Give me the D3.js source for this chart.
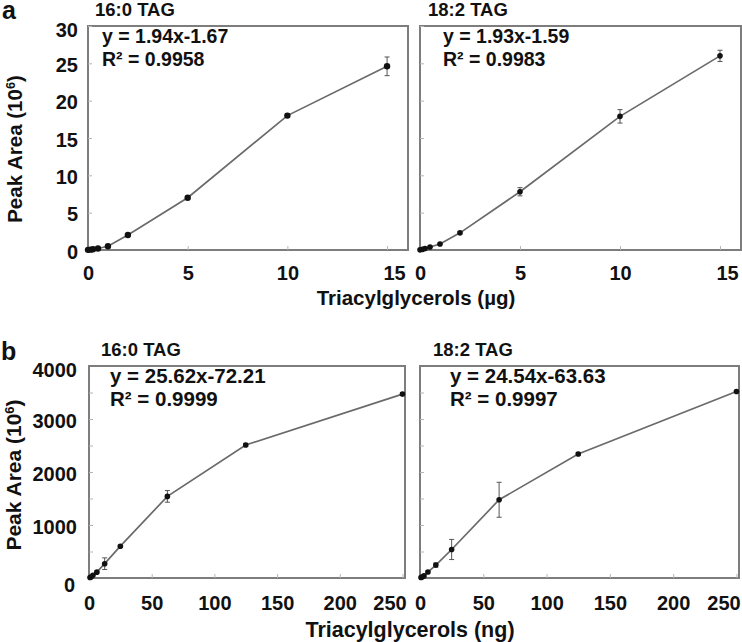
<!DOCTYPE html>
<html lang="en">
<head>
<meta charset="UTF-8">
<title>TAG calibration curves</title>
<script src="https://d3js.org/d3.v7.min.js"></script>
<style>
  body { margin: 0; background: #fff; }
  svg text { font-family: "Liberation Sans", Arial, sans-serif; font-weight: bold; fill: #111; }
</style>
</head>
<body>
<script>
// panel a: amounts in ug, peak area in 10^6
const aDose = [0, 0.125, 0.25, 0.5, 1, 2, 5, 10, 15];
const a160 = [0.02, 0.05, 0.1, 0.2, 0.5, 2.0, 7.0, 18.0, 24.6];
const a160Err = [0, 0, 0, 0, 0.1, 0.15, 0.2, 0.25, 1.25];
const a182 = [0.02, 0.08, 0.2, 0.4, 0.8, 2.3, 7.8, 17.9, 26.0];
const a182Err = [0, 0, 0.05, 0.05, 0.1, 0.15, 0.55, 0.9, 0.75];

// panel b: amounts in ng
const bDose = [0.78, 1.56, 3.125, 6.25, 12.5, 25, 62.5, 125, 250];
const b160 = [10, 20, 50, 110, 270, 600, 1540, 2510, 3470];
const b160Err = [0, 0, 0, 20, 110, 20, 110, 30, 30];
const b182 = [10, 20, 40, 112, 244, 538, 1476, 2340, 3520];
const b182Err = [0, 0, 0, 20, 40, 190, 330, 30, 20];

const aXTicks = [0, 5, 10, 15];
const aYTicks = [0, 5, 10, 15, 20, 25, 30];
const bXTicks = [0, 50, 100, 150, 200, 250];
const bYTicks = [0, 1000, 2000, 3000, 4000];
const bYMinor = [500, 1000, 1500, 2000, 2500, 3000, 3500];

const titles = ["16:0 TAG", "18:2 TAG"];
const eqA = [["y = 1.94x-1.67", "0.9958"], ["y = 1.93x-1.59", "0.9983"]];
const eqB = [["y = 25.62x-72.21", "0.9999"], ["y = 24.54x-63.63", "0.9997"]];

const W = 742, H = 642;
const svg = d3.select("body").append("svg").attr("width", W).attr("height", H);

const panels = [
  { box: [88, 26, 408, 250], xMax: 16.05, yMax: 30, xs: aDose, ys: a160, err: a160Err,
    xt: aXTicks, yt: aYTicks, ym: aYTicks, title: titles[0], eq: eqA[0], showY: true, r: 3.2, eqSize: 19.5 },
  { box: [420, 26, 741, 250], xMax: 16.05, yMax: 30, xs: aDose, ys: a182, err: a182Err,
    xt: aXTicks, yt: aYTicks, ym: aYTicks, title: titles[1], eq: eqA[1], showY: false, r: 2.8, eqSize: 19.5 },
  { box: [89, 366, 405, 578], xMax: 252, yMax: 4000, xs: bDose, ys: b160, err: b160Err,
    xt: bXTicks, yt: bYTicks, ym: bYMinor, title: titles[0], eq: eqB[0], showY: true, r: 2.8, eqSize: 20.5 },
  { box: [420, 366, 739, 578], xMax: 252, yMax: 4000, xs: bDose, ys: b182, err: b182Err,
    xt: bXTicks, yt: bYTicks, ym: bYMinor, title: titles[1], eq: eqB[1], showY: false, r: 2.8, eqSize: 20.5 }
];

panels.forEach((p, i) => {
  const [x0, y0, x1, y1] = p.box;
  const x = d3.scaleLinear().domain([0, p.xMax]).range([x0, x1]);
  const y = d3.scaleLinear().domain([0, p.yMax]).range([y1, y0]);
  const g = svg.append("g");

  // plot area border
  g.append("rect")
    .attr("x", x0).attr("y", y0)
    .attr("width", x1 - x0).attr("height", y1 - y0)
    .attr("fill", "none").attr("stroke", "#7d7d7d").attr("stroke-width", 2);

  // small inner ticks
  const yIn = g.append("g").attr("transform", `translate(${x0},0)`)
    .call(d3.axisRight(y).tickValues(p.ym).tickSize(4).tickFormat(""));
  const xIn = g.append("g").attr("transform", `translate(0,${y1})`)
    .call(d3.axisTop(x).tickValues(p.xt.slice(1)).tickSize(4).tickFormat(""));
  [yIn, xIn].forEach(a => {
    a.select(".domain").remove();
    a.selectAll("line").attr("stroke", "#b5b5b5").attr("stroke-width", 1);
  });

  // x tick labels
  const last = p.xt[p.xt.length - 1];
  const xa = g.append("g").attr("transform", `translate(0,${y1})`)
    .call(d3.axisBottom(x).tickValues(p.xt).tickSize(0).tickPadding(i < 2 ? 16 : 18)
      .tickFormat(d3.format("d")));
  xa.select(".domain").remove();
  xa.selectAll("text")
    .style("font-size", "20px")
    .attr("fill", "#111")
    .attr("dx", d => d === last ? (i < 2 ? 7 : -13) : 0);

  // y tick labels (left panels only)
  if (p.showY) {
    const ya = g.append("g").attr("transform", `translate(${x0},0)`)
      .call(d3.axisLeft(y).tickValues(p.yt).tickSize(0).tickPadding(i < 2 ? 10 : 12)
        .tickFormat(d3.format("d")));
    ya.select(".domain").remove();
    ya.selectAll("text")
      .style("font-size", "20px")
      .attr("fill", "#111")
      .attr("dy", d => d === 0 && i >= 2 ? "0.65em" : (d === p.yMax ? "0.5em" : "0.4em"))
      .attr("dx", d => d === 0 && i >= 2 ? -2 : 0);
  }

  // connecting line
  const pts = p.xs.map((v, k) => [v, p.ys[k], p.err[k]]);
  g.append("path")
    .datum(pts)
    .attr("fill", "none").attr("stroke", "#6a6a6a").attr("stroke-width", 1.7)
    .attr("d", d3.line().x(d => x(d[0])).y(d => y(d[1])));

  // error bars
  const eb = g.selectAll(".eb").data(pts.filter(d => d[2] > 0)).join("g");
  eb.append("line")
    .attr("x1", d => x(d[0])).attr("x2", d => x(d[0]))
    .attr("y1", d => y(d[1] - d[2])).attr("y2", d => y(d[1] + d[2]))
    .attr("stroke", "#555").attr("stroke-width", 1);
  [-1, 1].forEach(s => {
    eb.append("line")
      .attr("x1", d => x(d[0]) - 2.5).attr("x2", d => x(d[0]) + 2.5)
      .attr("y1", d => y(d[1] + s * d[2])).attr("y2", d => y(d[1] + s * d[2]))
      .attr("stroke", "#555").attr("stroke-width", 1);
  });

  // points
  g.selectAll("circle").data(pts).join("circle")
    .attr("cx", d => x(d[0])).attr("cy", d => y(d[1]))
    .attr("r", p.r).attr("fill", "#111");

  // panel title
  g.append("text")
    .attr("x", x0 + (i % 2 ? 8 : 7) + (i >= 2 ? 5 : 0))
    .attr("y", y0 - 10)
    .style("font-size", "18.5px")
    .text(p.title);

  // fit equation
  const ex = x0 + (i % 2 ? 23 : 14) + (i >= 2 ? 7 : 0);
  g.append("text").attr("x", ex).attr("y", y0 + 17)
    .style("font-size", p.eqSize + "px").text(p.eq[0]);
  g.append("text").attr("x", ex).attr("y", y0 + 40)
    .style("font-size", p.eqSize + "px").text("R² = " + p.eq[1]);
});

// panel letters
svg.append("text").attr("x", 2).attr("y", 19).style("font-size", "25px").text("a");
svg.append("text").attr("x", 1).attr("y", 360).style("font-size", "25px").text("b");

// axis titles
function yTitle(cx, cy, size) {
  const t = svg.append("text")
    .attr("transform", `translate(${cx},${cy}) rotate(-90)`)
    .attr("text-anchor", "middle")
    .style("font-size", size + "px");
  t.append("tspan").text("Peak Area (10");
  t.append("tspan").attr("dy", -7).style("font-size", (size * 0.62) + "px").text("6");
  t.append("tspan").attr("dy", 7).text(")");
}
yTitle(22, 149, 20.5);
yTitle(21, 475, 21);

svg.append("text").attr("x", 416).attr("y", 305).attr("text-anchor", "middle")
  .style("font-size", "20.5px").text("Triacylglycerols (µg)");
svg.append("text").attr("x", 410).attr("y", 637).attr("text-anchor", "middle")
  .style("font-size", "21.5px").text("Triacylglycerols (ng)");
</script>
</body>
</html>
